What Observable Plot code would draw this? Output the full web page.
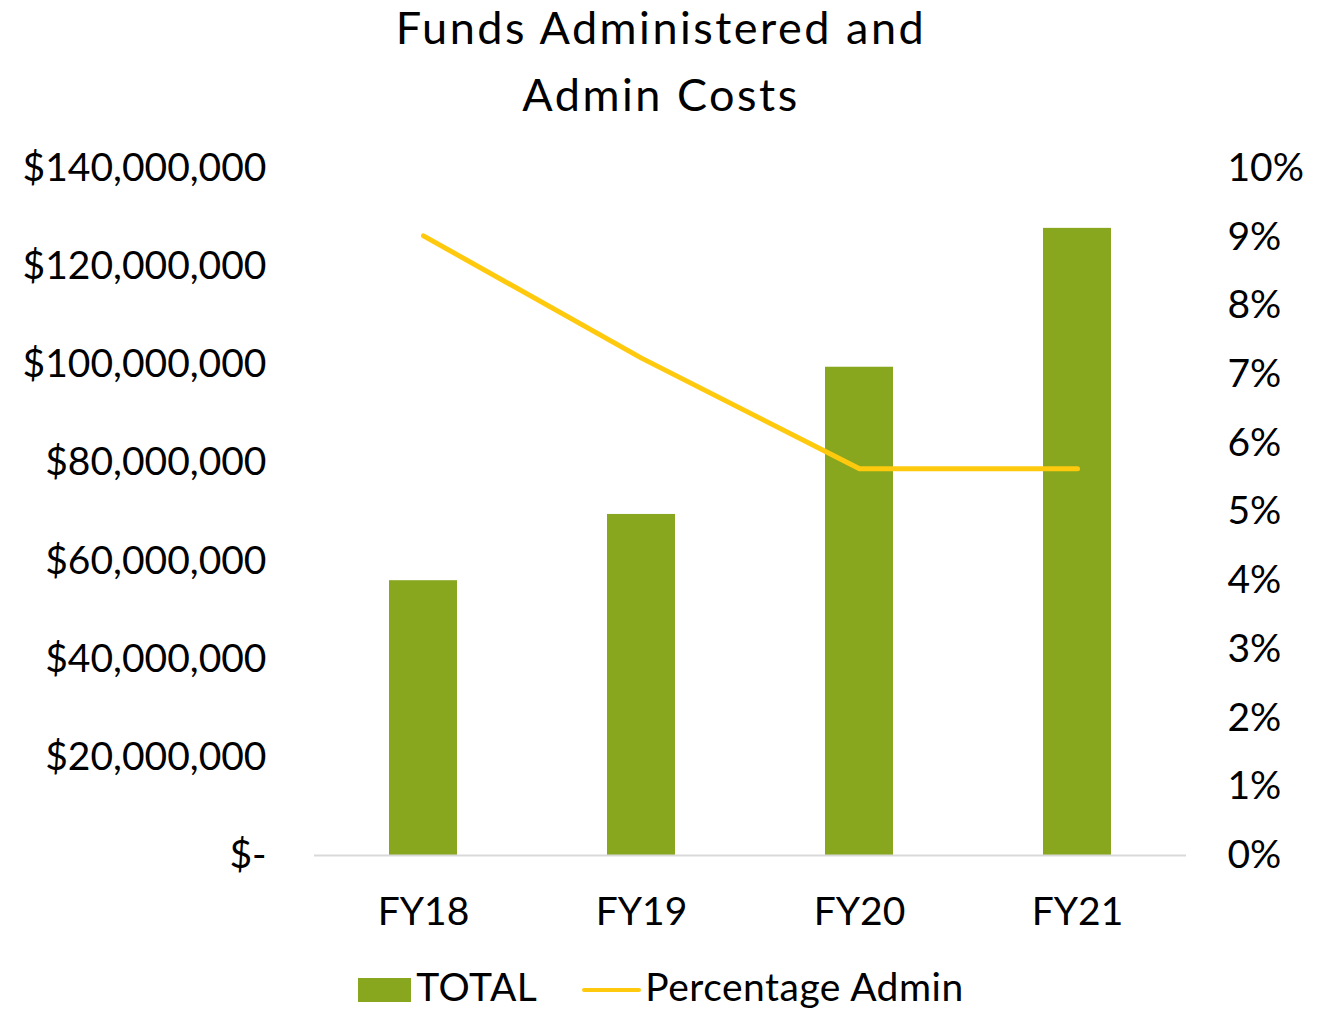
<!DOCTYPE html>
<html>
<head>
<meta charset="utf-8">
<script src="https://cdn.jsdelivr.net/npm/d3@7"></script>
<script src="https://cdn.jsdelivr.net/npm/@observablehq/plot@0.6"></script>
<style>
  body { margin: 0; background: #fff; font-family: Lato, "Noto Sans", sans-serif; color: #000; }
  #wrap { position: relative; width: 1322px; height: 1009px; overflow: hidden; }
  .tl { position: absolute; left: 0; width: 1322px; text-align: center; font-size: 45px; line-height: 54px; letter-spacing: 2.5px; white-space: nowrap; }
  #t1 { top: 0px; }
  #t2 { top: 67px; }
  #chart { position: absolute; left: 0; top: 130px; }
  #legend { position: absolute; left: 0; top: 967px; width: 1322px; height: 39px; display: flex; justify-content: center; align-items: center; font-size: 39px; line-height: 39px; letter-spacing: 0.5px; }
  .sw-bar { width: 53px; height: 24px; background: #89a71e; margin-right: 5px; position: relative; top: 3px; }
  .sw-line { width: 59px; height: 4px; background: #ffc90e; border-radius: 2px; margin-left: 45px; margin-right: 4px; position: relative; top: 3px; }
</style>
</head>
<body>
<div id="wrap">
  <div class="tl" id="t1">Funds Administered and</div>
  <div class="tl" id="t2">Admin Costs</div>
  <div id="chart"></div>
  <div id="legend">
    <div class="sw-bar"></div><span>TOTAL</span>
    <div class="sw-line"></div><span>Percentage Admin</span>
  </div>
</div>
<script>
const categories = ["FY18", "FY19", "FY20", "FY21"];
const totals = [56000000, 69500000, 99500000, 127800000];
const pctAdmin = [0.0902, 0.0724, 0.0563, 0.0563];
const leftTicks = [0, 20000000, 40000000, 60000000, 80000000, 100000000, 120000000, 140000000];
const rightTicks = [0, 0.01, 0.02, 0.03, 0.04, 0.05, 0.06, 0.07, 0.08, 0.09, 0.10];

const yMax = 140000000;
const pctMax = 0.10;
const toY = p => p * yMax / pctMax;

const data = categories.map((c, i) => ({ cat: c, total: totals[i], pct: pctAdmin[i] }));

const chart = Plot.plot({
  width: 1322,
  height: 830,
  marginLeft: 314,
  marginRight: 136,
  marginTop: 38,
  marginBottom: 105,
  style: { fontFamily: "Lato, 'Noto Sans', sans-serif", fontSize: "39px", color: "#000", background: "transparent" },
  x: { domain: categories, paddingInner: 0.69, paddingOuter: 0.345 },
  y: { domain: [0, yMax] },
  marks: [
    Plot.barY(data, { x: "cat", y: "total", fill: "#89a71e" }),
    Plot.ruleY([0], { stroke: "#d9d9d9", strokeWidth: 2 }),
    Plot.lineY(data, { x: "cat", y: d => toY(d.pct), stroke: "#ffc90e", strokeWidth: 5, strokeLinecap: "round" }),
    Plot.axisX({ tickSize: 0, tickPadding: 42, label: null, fontSize: 39 }),
    Plot.axisY(leftTicks, { anchor: "left", tickSize: 0, tickPadding: 48, label: null, fontSize: 39,
      tickFormat: v => v === 0 ? "$-" : "$" + d3.format(",")(v) }),
    Plot.axisY(rightTicks.map(toY), { anchor: "right", tickSize: 0, tickPadding: 41, label: null, fontSize: 39,
      tickFormat: v => Math.round(v / toY(0.01)) + "%" })
  ]
});
document.getElementById("chart").appendChild(chart);
</script>
</body>
</html>
